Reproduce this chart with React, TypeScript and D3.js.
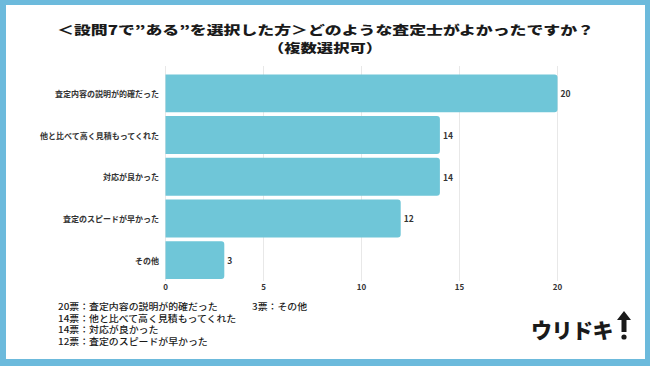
import React from "react";
import * as d3 from "d3";

const categories = [
  "査定内容の説明が的確だった",
  "他と比べて高く見積もってくれた",
  "対応が良かった",
  "査定のスピードが早かった",
  "その他",
];
const values = [20, 14, 14, 12, 3];
const xTicks = [0, 5, 10, 15, 20];
const titleLines = [
  "＜設問7で”ある”を選択した方＞どのような査定士がよかったですか？",
  "（複数選択可）",
];
const legendCol1 = [
  "20票：査定内容の説明が的確だった",
  "14票：他と比べて高く見積もってくれた",
  "14票：対応が良かった",
  "12票：査定のスピードが早かった",
];
const legendCol2 = ["3票：その他"];
const logoText = "ウリドキ";

const W = 650;
const H = 366;
const FONT = "'Noto Sans CJK JP', 'Noto Sans', sans-serif";
const BAR = "#6fc6d8";
const FRAME = "#6cbadc";

export default function App() {
  const x = d3.scaleLinear().domain([0, 20]).range([165.5, 557.5]);
  const y = d3
    .scaleBand<string>()
    .domain(categories)
    .range([72.5, 281])
    .paddingInner(0.09)
    .paddingOuter(0.045);

  const barPath = (x0: number, x1: number, y0: number, h: number, r: number) => {
    const p = d3.path();
    p.moveTo(x0, y0);
    p.lineTo(x1 - r, y0);
    p.arcTo(x1, y0, x1, y0 + r, r);
    p.lineTo(x1, y0 + h - r);
    p.arcTo(x1, y0 + h, x1 - r, y0 + h, r);
    p.lineTo(x0, y0 + h);
    p.closePath();
    return p.toString();
  };

  const legendY = d3.scalePoint<number>().domain([0, 1, 2, 3]).range([306, 341.5]);

  return (
    <svg
      width={W}
      height={H}
      style={{ position: "absolute", left: 0, top: 0 }}
      fontFamily={FONT}
    >
      <rect x={0} y={0} width={W} height={H} fill={FRAME} />
      <rect x={6} y={5} width={639} height={354} fill="#ffffff" />

      <text
        x={57}
        y={29}
        dominantBaseline="central"
        fontSize={12.5}
        fontWeight={900}
        fill="#1a1a1a"
        textLength={537}
        lengthAdjust="spacingAndGlyphs"
      >
        {titleLines[0]}
      </text>
      <text
        x={268}
        y={47}
        dominantBaseline="central"
        fontSize={12.5}
        fontWeight={900}
        fill="#1a1a1a"
        textLength={114}
        lengthAdjust="spacingAndGlyphs"
      >
        {titleLines[1]}
      </text>

      {xTicks.map((t) => (
        <line
          key={"g" + t}
          x1={x(t)}
          x2={x(t)}
          y1={66}
          y2={281}
          stroke="#e8e8e8"
          strokeWidth={1}
        />
      ))}

      {categories.map((c, i) => {
        const y0 = y(c)!;
        const h = y.bandwidth();
        return (
          <g key={c}>
            <path d={barPath(x(0), x(values[i]), y0, h, 3)} fill={BAR} />
            <text
              x={159}
              y={y0 + h / 2}
              textAnchor="end"
              dominantBaseline="central"
              fontSize={8}
              fontWeight={700}
              fill="#333"
            >
              {c}
            </text>
            <text
              x={x(values[i]) + 3}
              y={y0 + h / 2}
              dominantBaseline="central"
              fontSize={8.5}
              fontWeight={700}
              fill="#333"
            >
              {values[i]}
            </text>
          </g>
        );
      })}

      {xTicks.map((t) => (
        <text
          key={"t" + t}
          x={x(t)}
          y={286.5}
          textAnchor="middle"
          dominantBaseline="central"
          fontSize={8}
          fontWeight={700}
          fill="#333"
        >
          {t}
        </text>
      ))}

      {legendCol1.map((t, i) => (
        <g key={"l" + i} transform={`translate(58,${legendY(i)}) scale(1.1,1)`}>
          <text
            x={0}
            y={0}
            dominantBaseline="central"
            fontSize={9}
            fontWeight={500}
            fill="#1a1a1a"
          >
            {t}
          </text>
        </g>
      ))}
      {legendCol2.map((t, i) => (
        <g key={"m" + i} transform={`translate(252,${legendY(i)}) scale(1.1,1)`}>
          <text
            x={0}
            y={0}
            dominantBaseline="central"
            fontSize={9}
            fontWeight={500}
            fill="#1a1a1a"
          >
            {t}
          </text>
        </g>
      ))}

      <text
        x={531}
        y={329}
        dominantBaseline="central"
        fontSize={21}
        fontWeight={900}
        fill="#1a1a1a"
        letterSpacing={-0.5}
      >
        {logoText}
      </text>
      <path
        d="M624,311 L631,320 L626.5,320 L626.5,332 L621.5,332 L621.5,320 L617,320 Z"
        fill="#1a1a1a"
      />
      <circle cx={624} cy={337} r={2.6} fill="#1a1a1a" />
    </svg>
  );
}
